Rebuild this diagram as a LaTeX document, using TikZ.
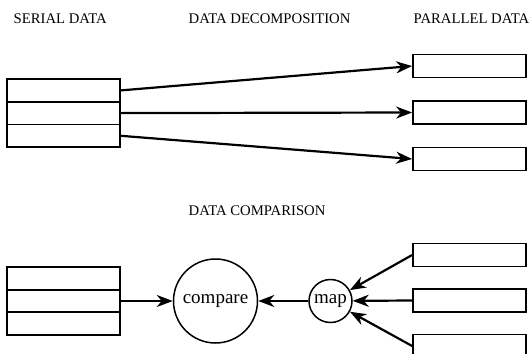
\documentclass[tikz,border=0pt]{standalone}
\usepackage{fontspec}
\setmainfont{Liberation Serif}
\usetikzlibrary{arrows.meta}

\begin{document}
\begin{tikzpicture}[x=1pt,y=-1pt,
  cell/.style={draw,line width=1.7pt,minimum width=113pt,minimum height=22.7pt,inner sep=0pt},
  title/.style={anchor=base west,inner sep=0pt,font=\fontsize{14.7}{17}\selectfont},
  op/.style={draw,circle,line width=1.5pt,inner sep=0pt,font=\fontsize{19}{22}\selectfont},
  link/.style={line width=2.2pt,-{Stealth[length=16pt,width=12pt,inset=5pt]}}]
  \useasboundingbox (0,0) rectangle (531,354);
  \def\L{63.5}
  \def\R{469.5}

  \node[title] (hs) at (13.5,23.5) {SERIAL DATA};
  \node[title] (hd) at (188.5,23.5) {DATA DECOMPOSITION};
  \node[title] (hp) at (413.5,23.5) {PARALLEL DATA};
  \node[title] (hc) at (188.5,215.5) {DATA COMPARISON};

  \foreach \i/\y/\yy in {1/90.4/66, 2/113.1/112.5, 3/135.8/159}{
    \node[cell] (s\i) at (\L,\y) {};
    \node[cell,minimum height=23pt] (p\i) at (\R,\yy) {};
    \draw[link] (s\i.east) -- (p\i.west);
  }

  \foreach \i/\y/\yy in {1/278.5/255, 2/301/300.5, 3/323.5/346}{
    \node[cell,minimum height=22.5pt] (t\i) at (\L,\y) {};
    \node[cell,minimum height=23pt] (q\i) at (\R,\yy) {};
  }

  \node[op,minimum size=84pt] (cmp) at (215.5,301) {compare};
  \node[op,minimum size=43pt] (map) at (330.5,301) {map};

  \draw[link] (t2.east) -- (cmp);
  \draw[link] (map) -- (cmp);
  \foreach \i in {1,2,3}
    \draw[link] (q\i.west) -- (map);
\end{tikzpicture}
\end{document}
